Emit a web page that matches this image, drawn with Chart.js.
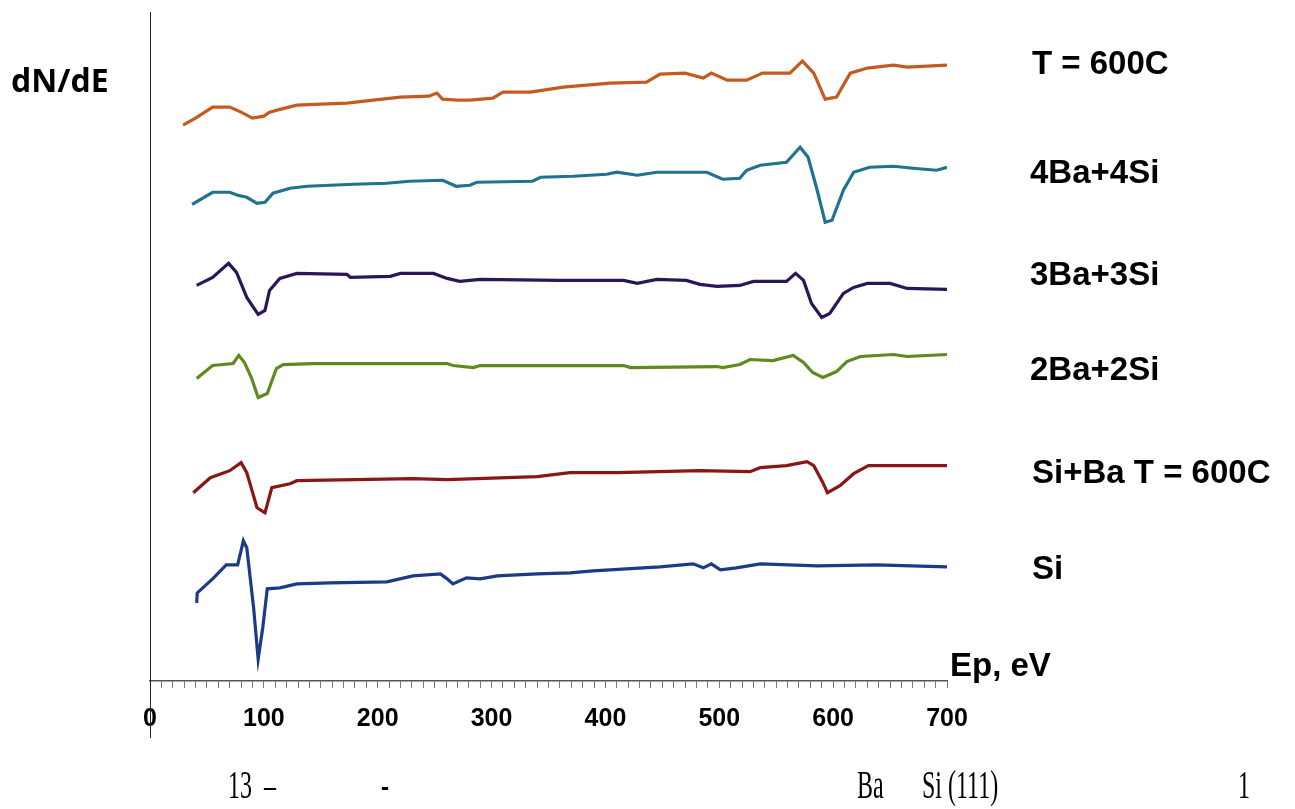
<!DOCTYPE html>
<html>
<head>
<meta charset="utf-8">
<script src="https://cdn.jsdelivr.net/npm/chart.js@4.4.0/dist/chart.umd.min.js"></script>
<style>
  html, body { margin: 0; padding: 0; background: #fff; }
  #wrap { position: relative; width: 1295px; height: 809px; overflow: hidden; }
  #c { position: absolute; left: 0; top: 0; }
  .lbl { position: absolute; font-family: "Liberation Sans", Arial, sans-serif; font-weight: bold; font-size: 33px; color: #000; white-space: nowrap; line-height: 1; }
  .ylab { position: absolute; font-family: "Open Sans", sans-serif; font-weight: bold; font-size: 32px; color: #000; left: 11px; top: 64px; line-height: 1; }
  .cap { position: absolute; font-family: "Liberation Serif", "Times New Roman", serif; font-size: 40px; color: #000; top: 765px; line-height: 1; transform-origin: left top; transform: scaleX(0.6); white-space: nowrap; }
</style>
</head>
<body>
<div id="wrap">
  <canvas id="c" width="1295" height="809"></canvas>
  <div class="ylab">dN/dE</div>
  <div class="lbl" style="left:1032px;top:46px;">T = 600C</div>
  <div class="lbl" style="left:1030px;top:155px;">4Ba+4Si</div>
  <div class="lbl" style="left:1030px;top:257px;">3Ba+3Si</div>
  <div class="lbl" style="left:1030px;top:352px;">2Ba+2Si</div>
  <div class="lbl" style="left:1032px;top:455px;">Si+Ba T = 600C</div>
  <div class="lbl" style="left:1032px;top:551px;">Si</div>
  <div class="lbl" style="left:950px;top:648px;">Ep, eV</div>
  <div class="cap" style="left:228px;">13 &nbsp;–</div>
  <div class="cap" style="left:381px;">-</div>
  <div class="cap" style="left:857px;">Ba</div>
  <div class="cap" style="left:922px;">Si (111)</div>
  <div class="cap" style="left:1238px;">1</div>
</div>
<script>
// ---- data (energy in eV, dN/dE in arbitrary units, curves vertically offset) ----
const xTicks = [0, 100, 200, 300, 400, 500, 600, 700];

const eT600 = [29,40,55,70,80,90,100,105,115,129,150,173,196,220,245,252,257,270,281,301,310,334,363,404,436,448,470,486,493,507,524,538,562,573,583,593,603,615,630,653,665,700];
const yT600 = [555,562,573,573,568,562,564,568,571,575,576,577,580,583,584,587,581,580,580,582,588,588,593,597,598,606,607,602,607,600,600,607,607,619,607,581,583,607,612,615,613,615];

const e4Ba = [37,55,70,77,85,94,101,108,123,138,179,208,228,257,269,281,287,336,343,372,401,410,428,445,489,503,518,524,536,559,571,578,586,593,599,609,618,632,653,670,691,700];
const y4Ba = [476,488,488,485,483,477,478,487,492,494,496,497,499,500,494,495,498,499,503,504,506,508,505,508,508,501,502,510,515,518,533,523,490,458,460,490,508,513,514,512,510,513];

const e3Ba = [41,55,69,76,85,95,101,105,114,129,173,176,211,220,249,261,272,290,360,416,428,445,471,483,498,518,530,559,567,574,581,590,597,609,618,630,650,665,700];
const y3Ba = [395,403,417,408,383,366,370,390,402,407,406,403,404,407,407,402,399,401,400,400,397,401,400,396,394,395,399,399,407,400,377,363,367,387,393,397,397,392,391];

const e2Ba = [41,55,73,78,83,89,95,103,111,117,143,261,266,284,290,416,422,498,503,518,527,547,565,574,582,591,603,612,624,653,665,700];
const y2Ba = [302,315,317,325,318,303,283,287,312,316,317,317,315,313,315,315,313,314,313,316,321,320,325,318,308,303,309,319,324,326,324,326];

const eSiBa = [38,53,70,80,85,94,101,107,123,129,231,261,340,369,410,483,527,536,559,577,583,591,595,606,618,631,700];
const ySiBa = [188,203,210,218,208,173,168,193,197,200,202,201,204,208,208,210,209,213,215,219,215,198,188,195,207,215,215];

const eSi = [41,41.5,55,67,77,82,85,91,95,99,103,114,129,158,208,231,255,261,266,278,290,305,340,369,389,448,477,486,493,501,515,536,586,638,700];
const ySi = [78,88,102,116,116,140,133,73,22,53,92,93,97,98,99,105,107,102,97,103,102,105,107,108,110,114,117,113,117,111,113,117,115,116,114];

const seriesNames = ["T = 600C", "4Ba+4Si", "3Ba+3Si", "2Ba+2Si", "Si+Ba T = 600C", "Si"];
const seriesColors = ["#C65A1E", "#1F7290", "#2B1758", "#5F8A1F", "#8A1616", "#1C3A86"];
const seriesE = [eT600, e4Ba, e3Ba, e2Ba, eSiBa, eSi];
const seriesY = [yT600, y4Ba, y3Ba, y2Ba, ySiBa, ySi];

const datasets = seriesNames.map((n, i) => ({
  label: n,
  data: seriesE[i].map((e, k) => ({ x: e, y: seriesY[i][k] })),
  borderColor: seriesColors[i],
  backgroundColor: seriesColors[i],
  borderWidth: 3.2,
  pointRadius: 0,
  showLine: true,
  tension: 0,
  fill: false
}));

const yAxisLine = {
  id: 'yAxisLine',
  afterDraw(chart) {
    const ctx = chart.ctx, xs = chart.scales.x, a = chart.chartArea;
    const px = Math.round(xs.getPixelForValue(0)) + 0.5;
    ctx.save();
    ctx.strokeStyle = '#222';
    ctx.lineWidth = 1;
    ctx.beginPath();
    ctx.moveTo(px, a.top + 2);
    ctx.lineTo(px, a.bottom + 57);
    ctx.stroke();
    ctx.restore();
  }
};

new Chart(document.getElementById('c'), {
  type: 'scatter',
  data: { datasets },
  options: {
    responsive: false,
    animation: false,
    devicePixelRatio: 1,
    layout: { padding: { left: 150, right: 348, top: 10, bottom: 59 } },
    plugins: { legend: { display: false }, tooltip: { enabled: false } },
    scales: {
      x: {
        type: 'linear',
        min: 0, max: 700,
        afterBuildTicks(scale) {
          const t = [];
          for (let v = 0; v <= 700; v += 10) t.push({ value: v });
          scale.ticks = t;
        },
        ticks: {
          autoSkip: false,
          maxRotation: 0,
          padding: 16,
          color: '#000',
          font: { family: 'Liberation Sans', weight: 'bold', size: 25 },
          callback: (v) => xTicks.includes(v) ? String(v) : ''
        },
        grid: { drawOnChartArea: false, drawTicks: true, tickLength: 7, color: '#777', lineWidth: 1 },
        border: { display: true, color: '#555', width: 1.5 }
      },
      y: {
        display: false,
        min: 0, max: 670
      }
    }
  },
  plugins: [yAxisLine]
});
</script>
</body>
</html>
